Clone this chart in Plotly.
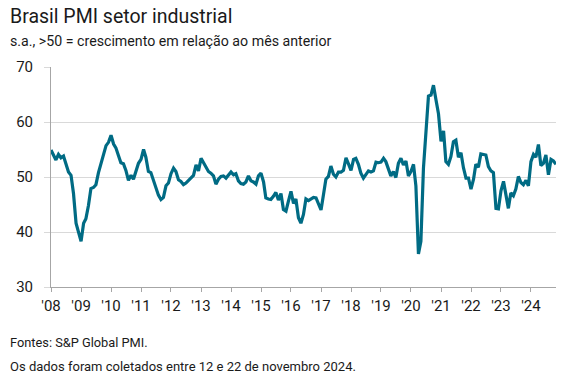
import pandas as pd
import plotly.graph_objects as go

# Brazil manufacturing PMI, monthly, Jan 2008 - Nov 2024
pmi_2008 = [54.9, 53.9, 53.1, 54.1, 53.5, 53.8, 52.4, 50.9, 50.3, 47.0, 41.6, 40.2]
pmi_2009 = [38.3, 41.6, 42.4, 44.8, 47.9, 48.1, 48.6, 50.8, 52.4, 54.0, 55.7, 56.3]
pmi_2010 = [57.6, 56.0, 55.3, 53.9, 52.6, 52.4, 51.2, 49.4, 50.3, 49.6, 50.9, 52.5]
pmi_2011 = [53.2, 55.0, 53.6, 51.0, 50.8, 49.4, 47.9, 46.7, 45.9, 46.3, 48.4, 48.9]
pmi_2012 = [50.6, 51.6, 51.0, 49.5, 49.2, 48.6, 48.9, 49.4, 49.9, 50.3, 52.2, 51.1]
pmi_2013 = [53.4, 52.6, 51.8, 51.0, 50.7, 50.2, 48.7, 49.6, 50.1, 50.2, 49.8, 50.4]
pmi_2014 = [50.9, 50.4, 50.6, 49.3, 48.8, 48.7, 49.1, 50.2, 49.3, 49.1, 48.7, 50.2]
pmi_2015 = [50.7, 49.1, 46.2, 46.0, 45.9, 46.5, 47.2, 45.8, 47.0, 44.1, 43.8, 45.6]
pmi_2016 = [47.4, 45.2, 46.0, 42.6, 41.6, 43.2, 46.0, 45.7, 46.0, 46.3, 46.2, 45.2]
pmi_2017 = [44.0, 46.9, 49.6, 50.1, 52.0, 50.5, 50.0, 50.9, 50.9, 51.2, 53.5, 52.4]
pmi_2018 = [51.2, 53.2, 53.4, 52.3, 50.7, 49.8, 50.5, 51.1, 50.9, 51.1, 52.7, 52.6]
pmi_2019 = [52.7, 53.4, 52.8, 51.5, 50.2, 51.0, 49.9, 52.5, 53.4, 52.2, 52.9, 50.2]
pmi_2020 = [51.0, 52.3, 48.4, 36.0, 38.3, 51.6, 58.2, 64.7, 64.9, 66.7, 64.0, 61.5]
pmi_2021 = [56.5, 58.4, 52.8, 52.3, 53.7, 56.4, 56.7, 53.6, 54.4, 51.7, 49.8, 49.8]
pmi_2022 = [47.8, 49.6, 52.3, 51.8, 54.2, 54.1, 54.0, 51.9, 51.1, 50.8, 44.3, 44.2]
pmi_2023 = [47.5, 49.2, 47.0, 44.3, 47.1, 46.6, 47.8, 50.1, 49.0, 48.6, 49.4, 48.4]
pmi_2024 = [52.8, 54.1, 53.6, 55.9, 52.1, 52.5, 54.0, 50.4, 53.2, 52.9, 52.3]

years = list(range(2008, 2025))
year_labels = ["'%02d" % (y % 100) for y in years]
y_ticks = [30, 40, 50, 60, 70]

values = (pmi_2008 + pmi_2009 + pmi_2010 + pmi_2011 + pmi_2012 + pmi_2013 +
          pmi_2014 + pmi_2015 + pmi_2016 + pmi_2017 + pmi_2018 + pmi_2019 +
          pmi_2020 + pmi_2021 + pmi_2022 + pmi_2023 + pmi_2024)
dates = pd.date_range("2008-01-01", periods=len(values), freq="MS")
year_ticks = [pd.Timestamp(f"{y}-01-01") for y in years]

FONT = "Roboto"
TEXT = "#1a1a1a"
GRID = "#d9d9d9"
AXIS = "#a6a6a6"

fig = go.Figure()
fig.add_trace(go.Scatter(
    x=dates, y=values, mode="lines",
    line=dict(color="#006b84", width=3.2),
    hoverinfo="skip", showlegend=False,
))

L, R, T, B = 51, 11, 67, 90
W, H = 567, 377
pw, ph = W - L - R, H - T - B

def px_x(x):
    return (x - L) / pw

def px_y(y):
    return (H - B - y) / ph

fig.update_layout(
    width=W, height=H, autosize=False,
    margin=dict(l=L, r=R, t=T, b=B, pad=0),
    paper_bgcolor="white", plot_bgcolor="white",
    font=dict(family=FONT, color=TEXT),
    xaxis=dict(
        type="date",
        range=[dates[0], dates[-1]],
        showgrid=False, zeroline=False,
        showline=True, linecolor=AXIS, linewidth=1,
        ticks="outside", ticklen=4, tickcolor=AXIS, tickwidth=1,
        tickvals=year_ticks, ticktext=year_labels,
        tickfont=dict(family=FONT, size=15, color=TEXT),
        ticklabelstandoff=1,
    ),
    yaxis=dict(
        range=[30, 70],
        tickvals=y_ticks,
        showgrid=True, gridcolor=GRID, gridwidth=1.2,
        zeroline=False,
        showline=True, linecolor=AXIS, linewidth=1,
        ticks="outside", ticklen=6, tickcolor=GRID,
        tickfont=dict(family=FONT, size=15, color=TEXT),
        ticklabelstandoff=8,
    ),
    annotations=[
        dict(text="Brasil PMI setor industrial", x=px_x(8), y=px_y(17),
             xref="paper", yref="paper", xanchor="left", yanchor="middle",
             showarrow=False, font=dict(family=FONT, size=19.5, color=TEXT)),
        dict(text="s.a., >50 = crescimento em relação ao mês anterior",
             x=px_x(8), y=px_y(41), xref="paper", yref="paper",
             xanchor="left", yanchor="middle", showarrow=False,
             font=dict(family=FONT, size=14.2, color=TEXT)),
        dict(text="Fontes: S&P Global PMI.", x=px_x(8), y=px_y(343),
             xref="paper", yref="paper", xanchor="left", yanchor="middle",
             showarrow=False, font=dict(family=FONT, size=12.8, color=TEXT)),
        dict(text="Os dados foram coletados entre 12 e 22 de novembro 2024.",
             x=px_x(8), y=px_y(366), xref="paper", yref="paper",
             xanchor="left", yanchor="middle", showarrow=False,
             font=dict(family=FONT, size=13, color=TEXT)),
    ],
)

fig.write_html("out.html", config={"displayModeBar": False},
               post_script="document.body.style.margin='0';")
